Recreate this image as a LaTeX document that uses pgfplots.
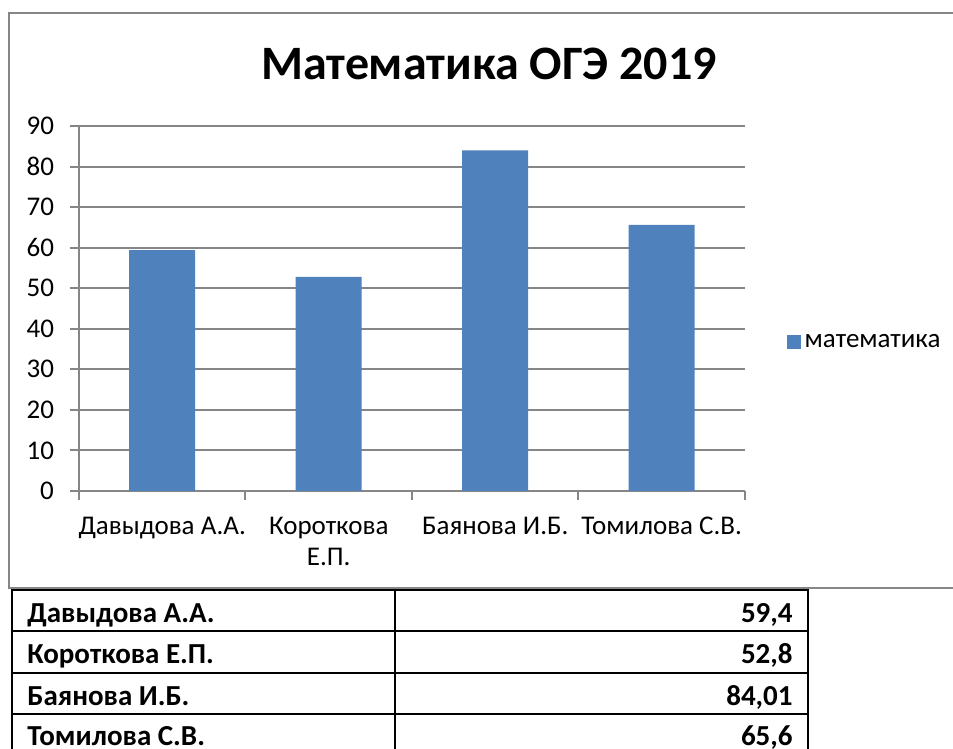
\documentclass[border=0pt]{standalone}
\usepackage{fontspec}
\setmainfont{Carlito}
\usepackage{pgfplots}
\pgfplotsset{compat=1.18}
\definecolor{barblue}{RGB}{79,129,189}
\definecolor{axgray}{RGB}{134,134,134}
\begin{document}
\begin{tikzpicture}[x=0.5pt,y=0.5pt]
\useasboundingbox (0,0) rectangle (953,749);
\draw[axgray, line width=1pt] (960,736) -- (9,736) -- (9,161) -- (960,161);
\node[font=\bfseries\fontsize{24}{29}\selectfont, anchor=base, inner sep=0pt] at (489,669) {Математика ОГЭ 2019};
\begin{axis}[
  at={(39.5pt,129pt)}, anchor=south west,
  width=333pt, height=182.5pt, scale only axis,
  ybar, bar width=33pt,
  xmin=-0.5, xmax=3.5, ymin=0, ymax=90,
  ytick={0,10,...,90},
  xtick={-0.5,0.5,1.5,2.5,3.5}, xticklabels={},
  extra x ticks={0,1,2,3},
  extra x tick labels={Давыдова А.А., {Короткова\\Е.П.}, Баянова И.Б., Томилова С.В.},
  extra x tick style={grid=none, major tick length=0pt},
  axis x line*=bottom, axis y line*=left,
  axis line style={axgray, line width=1pt, -},
  ymajorgrids, major grid style={axgray, line width=1pt},
  tick align=outside, major tick length=4.5pt,
  tick style={axgray, line width=1pt},
  tick label style={font=\fontsize{13.5}{15.5}\selectfont, text=black},
  xticklabel style={align=center, yshift=-9.5pt},
  yticklabel style={xshift=-4.5pt},
  /pgf/number format/assume math mode=true,
  legend style={at={(1.053,0.408)}, anchor=west, draw=none, fill=none,
    font=\fontsize{13.5}{15.5}\selectfont},
  legend image code/.code={\fill[#1,draw=none] (0pt,-3.5pt) rectangle (7pt,3.5pt);},
]
\addplot[fill=barblue, draw=none] coordinates {(0,59.4) (1,52.8) (2,84.01) (3,65.6)};
\addlegendentry{математика}
\end{axis}
\begin{scope}[line width=1pt]
\foreach \yy in {590,631,673,714} {\draw (11,749-\yy) -- (809,749-\yy);}
\foreach \xx in {12,395,808} {\draw (\xx,749-589) -- (\xx,-20);}
\end{scope}
\begin{scope}[font=\bfseries\fontsize{14.5}{17}\selectfont]
\node[anchor=base west, inner sep=0pt] at (27,749-623) {Давыдова А.А.};
\node[anchor=base west, inner sep=0pt] at (27,749-664) {Короткова Е.П.};
\node[anchor=base west, inner sep=0pt] at (27,749-706) {Баянова И.Б.};
\node[anchor=base west, inner sep=0pt] at (27,749-746) {Томилова С.В.};
\node[anchor=base east, inner sep=0pt] at (793,749-623) {59,4};
\node[anchor=base east, inner sep=0pt] at (793,749-664) {52,8};
\node[anchor=base east, inner sep=0pt] at (793,749-706) {84,01};
\node[anchor=base east, inner sep=0pt] at (793,749-746) {65,6};
\end{scope}
\end{tikzpicture}
\end{document}
